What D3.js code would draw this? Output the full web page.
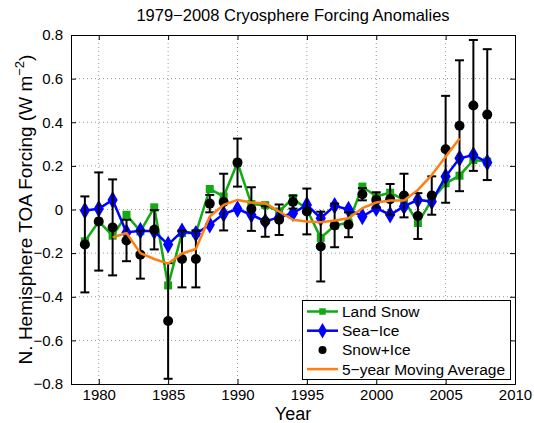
<!DOCTYPE html>
<html>
<head>
<meta charset="utf-8">
<script src="https://cdn.jsdelivr.net/npm/d3@7"></script>
<style>
  body { margin: 0; background: #fff; }
  text { font-family: "Liberation Sans", Arial, sans-serif; }
  .grid line { stroke: #999; stroke-dasharray: 1,3; }
</style>
</head>
<body>
<svg id="chart"></svg>
<script>
var width = 534,
  height = 423;

var years = d3.range(1979, 2009);

var landSnow = [-0.146, -0.055, -0.12, -0.024, -0.1, 0.01, -0.348, -0.108, -0.108, 0.094,
  0.06, 0.215, 0.025, 0.02, -0.009, 0.052, 0, -0.13, -0.074, -0.06,
  0.105, 0.06, 0.077, 0.044, -0.062, 0.044, 0.12, 0.155, 0.227, 0.22];

var seaIce = [-0.005, 0.003, 0.044, -0.105, -0.097, -0.1, -0.161, -0.1, -0.111, -0.07,
  -0.02, 0.002, -0.024, -0.055, -0.035, -0.017, 0.021, -0.04, 0.017, 0,
  -0.032, 0.006, -0.024, 0.014, 0.044, 0.037, 0.151, 0.235, 0.25, 0.216];

var snowIce = [-0.16, -0.055, -0.082, -0.142, -0.207, -0.093, -0.511, -0.227, -0.227, 0.027,
  0.034, 0.215, 0.002, -0.055, -0.047, 0.034, -0.009, -0.17, -0.073, -0.07,
  0.07, 0.044, 0.047, 0.064, -0.03, 0.064, 0.276, 0.384, 0.477, 0.435];

var snowIceErr = [0.22, 0.225, 0.22, 0.095, 0.11, 0.09, 0.265, 0.13, 0.13, 0.04,
  0.13, 0.11, 0.1, 0.07, 0.07, 0.03, 0.105, 0.16, 0.1, 0.057,
  0.028, 0.035, 0.07, 0.1, 0.105, 0.088, 0.245, 0.3, 0.3, 0.3];

var avgYears = d3.range(1981, 2007);
var movingAvg = [-0.128, -0.108, -0.2, -0.227, -0.248, -0.202, -0.181, -0.032, 0.021, 0.044,
  0.032, 0.029, -0.009, -0.047, -0.055, -0.058, -0.05, -0.04, 0.006, 0.032,
  0.041, 0.041, 0.09, 0.158, 0.242, 0.326];

var xTicks = [1980, 1985, 1990, 1995, 2000, 2005, 2010];
var yTicks = [-0.8, -0.6, -0.4, -0.2, 0, 0.2, 0.4, 0.6, 0.8];

var legendItems = [
  { label: 'Land Snow', color: '#11aa11', marker: 'square', line: true },
  { label: 'Sea\u2212Ice', color: '#0000ff', marker: 'diamond', line: true },
  { label: 'Snow+Ice', color: '#000', marker: 'circle', line: false },
  { label: '5\u2212year Moving Average', color: '#ff7f0e', marker: null, line: true }
];

var margin = { left: 71, right: 19, top: 35, bottom: 39 };

var x = d3.scaleLinear()
  .domain([1978, 2010])
  .range([margin.left, width - margin.right]);

var y = d3.scaleLinear()
  .domain([-0.8, 0.8])
  .range([height - margin.bottom, margin.top]);

var svg = d3.select('#chart')
  .attr('width', width)
  .attr('height', height);

var x0 = x.range()[0], x1 = x.range()[1],
  y0 = y.range()[0], y1 = y.range()[1];

// dotted grid
var grid = svg.append('g').attr('class', 'grid');
grid.selectAll('.gx')
  .data(xTicks.slice(0, -1))
  .enter().append('line')
  .attr('x1', function(d) { return x(d); })
  .attr('x2', function(d) { return x(d); })
  .attr('y1', y0).attr('y2', y1);
grid.selectAll('.gy')
  .data(yTicks.slice(1, -1))
  .enter().append('line')
  .attr('x1', x0).attr('x2', x1)
  .attr('y1', function(d) { return y(d); })
  .attr('y2', function(d) { return y(d); });

// axes, ticks inside
var fmt = function(d) { return d === 0 ? '0' : d3.format('.1f')(d); };

svg.append('g')
  .attr('transform', 'translate(0,' + y0 + ')')
  .call(d3.axisBottom(x).tickValues(xTicks).tickSize(-5).tickPadding(5).tickFormat(d3.format('d')));
svg.append('g')
  .attr('transform', 'translate(0,' + y1 + ')')
  .call(d3.axisTop(x).tickValues(xTicks).tickSize(-5).tickFormat(''));
svg.append('g')
  .attr('transform', 'translate(' + x0 + ',0)')
  .call(d3.axisLeft(y).tickValues(yTicks).tickSize(-5).tickPadding(8).tickFormat(fmt));
svg.append('g')
  .attr('transform', 'translate(' + x1 + ',0)')
  .call(d3.axisRight(y).tickValues(yTicks).tickSize(-5).tickFormat(''));

svg.selectAll('.domain').attr('stroke', '#000').attr('stroke-width', 1);
svg.selectAll('.tick line').attr('stroke', '#000');
svg.selectAll('.tick text')
  .attr('font-size', 15)
  .attr('fill', '#000')
  .style('font-family', '"Liberation Sans", Arial, sans-serif');

// series
var line = d3.line()
  .x(function(d) { return x(d[0]); })
  .y(function(d) { return y(d[1]); });

var symSquare = d3.symbol().type(d3.symbolSquare).size(64);
var symDiamond = d3.symbol().type(d3.symbolDiamond).size(90);

svg.append('path')
  .datum(d3.zip(years, landSnow))
  .attr('d', line)
  .attr('fill', 'none')
  .attr('stroke', '#11aa11')
  .attr('stroke-width', 2.5);
svg.append('g').selectAll('path')
  .data(d3.zip(years, landSnow))
  .enter().append('path')
  .attr('d', symSquare)
  .attr('transform', function(d) { return 'translate(' + x(d[0]) + ',' + y(d[1]) + ')'; })
  .attr('fill', '#11aa11');

svg.append('path')
  .datum(d3.zip(years, seaIce))
  .attr('d', line)
  .attr('fill', 'none')
  .attr('stroke', '#0000ff')
  .attr('stroke-width', 2.5);
svg.append('g').selectAll('path')
  .data(d3.zip(years, seaIce))
  .enter().append('path')
  .attr('d', symDiamond)
  .attr('transform', function(d) { return 'translate(' + x(d[0]) + ',' + y(d[1]) + ')'; })
  .attr('fill', '#0000ff');

// error bars
var eb = svg.append('g')
  .attr('stroke', '#000')
  .attr('stroke-width', 2)
  .selectAll('g')
  .data(d3.zip(years, snowIce, snowIceErr))
  .enter().append('g');
eb.append('line')
  .attr('x1', function(d) { return x(d[0]); })
  .attr('x2', function(d) { return x(d[0]); })
  .attr('y1', function(d) { return y(d[1] - d[2]); })
  .attr('y2', function(d) { return y(d[1] + d[2]); });
[-1, 1].forEach(function(s) {
  eb.append('line')
    .attr('x1', function(d) { return x(d[0]) - 4.5; })
    .attr('x2', function(d) { return x(d[0]) + 4.5; })
    .attr('y1', function(d) { return y(d[1] + s * d[2]); })
    .attr('y2', function(d) { return y(d[1] + s * d[2]); });
});
eb.append('circle')
  .attr('cx', function(d) { return x(d[0]); })
  .attr('cy', function(d) { return y(d[1]); })
  .attr('r', 5)
  .attr('stroke', 'none')
  .attr('fill', '#000');

svg.append('path')
  .datum(d3.zip(avgYears, movingAvg))
  .attr('d', line)
  .attr('fill', 'none')
  .attr('stroke', '#ff7f0e')
  .attr('stroke-width', 2.5)
  .attr('stroke-linejoin', 'round');

// legend
var lg = svg.append('g');
lg.append('rect')
  .attr('x', 302.5).attr('y', 300.5)
  .attr('width', 208).attr('height', 79)
  .attr('fill', '#fff')
  .attr('stroke', '#000');
var li = lg.selectAll('.li')
  .data(legendItems)
  .enter().append('g')
  .attr('transform', function(d, i) { return 'translate(307,' + (311.5 + i * 19.2) + ')'; });
li.filter(function(d) { return d.line; })
  .append('line')
  .attr('x1', 0).attr('x2', 31)
  .attr('stroke', function(d) { return d.color; })
  .attr('stroke-width', 2.5);
li.filter(function(d) { return d.marker === 'square'; })
  .append('path')
  .attr('transform', 'translate(15.5,0)')
  .attr('d', d3.symbol().type(d3.symbolSquare).size(42))
  .attr('fill', function(d) { return d.color; });
li.filter(function(d) { return d.marker === 'diamond'; })
  .append('path')
  .attr('transform', 'translate(15.5,0)')
  .attr('d', d3.symbol().type(d3.symbolDiamond).size(70))
  .attr('fill', function(d) { return d.color; });
li.filter(function(d) { return d.marker === 'circle'; })
  .append('circle')
  .attr('cx', 15.5).attr('r', 4)
  .attr('fill', '#000');
li.append('text')
  .attr('x', 35)
  .attr('dy', '0.36em')
  .attr('font-size', 15.5)
  .text(function(d) { return d.label; });

// titles
svg.append('text')
  .attr('x', (x0 + x1) / 2)
  .attr('y', 21)
  .attr('text-anchor', 'middle')
  .attr('font-size', 16.5)
  .text('1979\u22122008 Cryosphere Forcing Anomalies');

svg.append('text')
  .attr('x', (x0 + x1) / 2)
  .attr('y', 420)
  .attr('text-anchor', 'middle')
  .attr('font-size', 18)
  .text('Year');

var yl = svg.append('text')
  .attr('transform', 'translate(32,' + ((y0 + y1) / 2) + ') rotate(-90)')
  .attr('text-anchor', 'middle')
  .attr('font-size', 19);
yl.append('tspan').text('N. Hemisphere TOA Forcing (W m');
yl.append('tspan').attr('font-size', 13).attr('dy', -8).text('\u22122');
yl.append('tspan').attr('dy', 8).text(')');
</script>
</body>
</html>
